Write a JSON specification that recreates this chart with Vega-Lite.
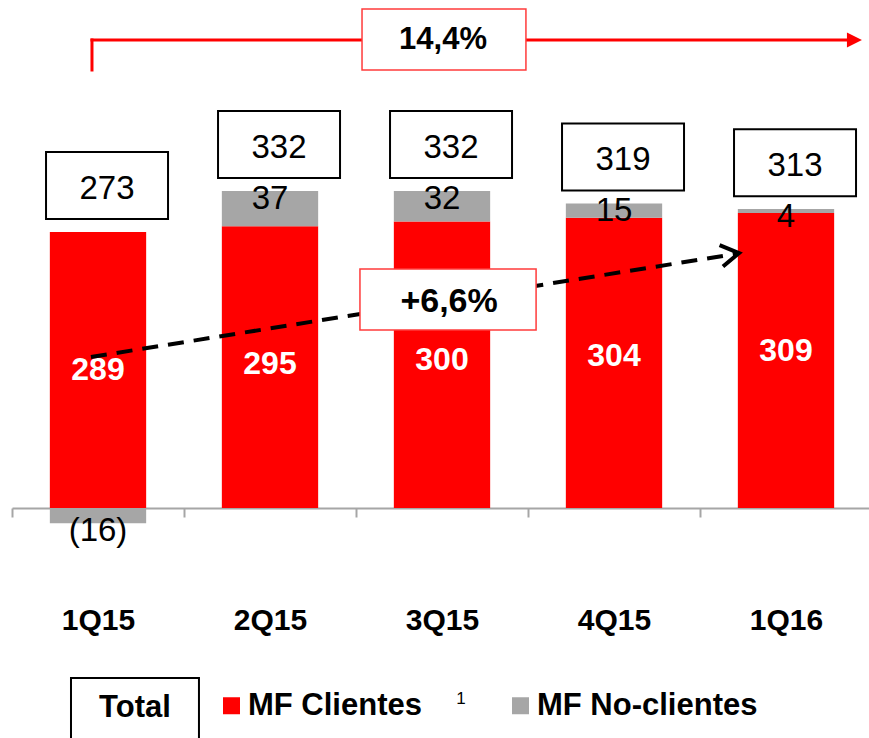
{
  "$schema": "https://vega.github.io/schema/vega-lite/v6.json",
  "width": 857,
  "height": 508,
  "autosize": {"type": "none"},
  "padding": {"left": 12, "top": 0, "right": 0, "bottom": 230},
  "background": "white",
  "config": {
    "view": {"stroke": null},
    "font": "Liberation Sans",
    "text": {"font": "Liberation Sans"}
  },
  "datasets": {
    "bars": [
      {"quarter": "1Q15", "serie": "MF Clientes", "value": 289},
      {"quarter": "1Q15", "serie": "MF No-clientes", "value": -16},
      {"quarter": "2Q15", "serie": "MF Clientes", "value": 295},
      {"quarter": "2Q15", "serie": "MF No-clientes", "value": 37},
      {"quarter": "3Q15", "serie": "MF Clientes", "value": 300},
      {"quarter": "3Q15", "serie": "MF No-clientes", "value": 32},
      {"quarter": "4Q15", "serie": "MF Clientes", "value": 304},
      {"quarter": "4Q15", "serie": "MF No-clientes", "value": 15},
      {"quarter": "1Q16", "serie": "MF Clientes", "value": 309},
      {"quarter": "1Q16", "serie": "MF No-clientes", "value": 4}
    ],
    "totals": [
      {"quarter": "1Q15", "total": 273},
      {"quarter": "2Q15", "total": 332},
      {"quarter": "3Q15", "total": 332},
      {"quarter": "4Q15", "total": 319},
      {"quarter": "1Q16", "total": 313}
    ]
  },
  "resolve": {"scale": {"x": "independent"}},
  "layer": [
    {
      "data": {"name": "bars"},
      "layer": [
        {
          "mark": {"type": "bar", "width": {"band": 0.56}},
          "encoding": {
            "x": {
              "field": "quarter", "type": "nominal",
              "sort": ["1Q15", "2Q15", "3Q15", "4Q15", "1Q16"],
              "scale": {"paddingInner": 0, "paddingOuter": 0, "range": [0, 860]},
              "axis": {
                "title": null, "tickBand": "extent", "labelAngle": 0,
                "domainColor": "#a6a6a6", "domainWidth": 2,
                "tickColor": "#a6a6a6", "tickWidth": 2, "tickSize": 9,
                "labelFont": "Liberation Sans", "labelFontWeight": "bold",
                "labelFontSize": 30, "labelColor": "#000000", "labelPadding": 88
              }
            },
            "y": {
              "field": "value", "type": "quantitative", "stack": "zero",
              "scale": {"domain": [0, 532], "nice": false, "zero": false},
              "axis": null
            },
            "color": {
              "field": "serie", "type": "nominal",
              "scale": {"domain": ["MF Clientes", "MF No-clientes"], "range": ["#ff0000", "#a6a6a6"]},
              "legend": {
                "orient": "none", "legendX": 204, "legendY": 690,
                "direction": "horizontal", "title": null,
                "symbolType": "square", "symbolSize": 289, "symbolStrokeWidth": 0,
                "labelFont": "Liberation Sans", "labelFontWeight": "bold",
                "labelFontSize": 31, "labelColor": "#000000", "labelOffset": 1,
                "columnPadding": 83, "padding": 0, "labelLimit": 400
              }
            },
            "order": {"field": "serie", "type": "nominal", "sort": "ascending"}
          }
        },
        {
          "data": {"name": "bars"},
          "transform": [
            {"filter": "datum.value > 0"},
            {"aggregate": [{"op": "sum", "field": "value", "as": "top"}], "groupby": ["quarter"]},
            {"lookup": "quarter", "from": {"data": {"name": "totals"}, "key": "quarter", "fields": ["total"]}}
          ],
          "encoding": {
            "x": {"field": "quarter", "type": "nominal", "sort": ["1Q15", "2Q15", "3Q15", "4Q15", "1Q16"]},
            "y": {"field": "top", "type": "quantitative", "axis": null}
          },
          "layer": [
            {
              "mark": {
                "type": "point",
                "shape": "M -0.852 -1.311 L 1.148 -1.311 L 1.148 -0.213 L -0.852 -0.213 Z",
                "size": 14884, "filled": true, "fill": "white", "stroke": "black",
                "strokeWidth": 2, "opacity": 1
              }
            },
            {
              "mark": {"type": "text", "fontSize": 33, "color": "black", "baseline": "middle", "dy": -43, "dx": 9},
              "encoding": {"text": {"field": "total", "type": "quantitative"}}
            }
          ]
        },
        {
          "transform": [{"filter": "datum.serie === 'MF Clientes'"}],
          "mark": {"type": "text", "fontSize": 32, "fontWeight": "bold", "color": "white", "baseline": "middle", "dy": 138},
          "encoding": {
            "x": {"field": "quarter", "type": "nominal", "sort": ["1Q15", "2Q15", "3Q15", "4Q15", "1Q16"]},
            "y": {"field": "value", "type": "quantitative", "axis": null},
            "text": {"field": "value", "type": "quantitative"}
          }
        },
        {
          "mark": {"type": "text", "fontSize": 33, "color": "black", "baseline": "middle", "dy": 8},
          "encoding": {
            "x": {"field": "quarter", "type": "nominal", "sort": ["1Q15", "2Q15", "3Q15", "4Q15", "1Q16"]},
            "y": {"field": "value", "type": "quantitative", "stack": "zero", "axis": null},
            "detail": {"field": "serie", "type": "nominal"},
            "order": {"field": "serie", "type": "nominal", "sort": "ascending"},
            "text": {"field": "value", "type": "quantitative", "format": "(d"},
            "opacity": {"condition": {"test": "datum.serie === 'MF Clientes'", "value": 0}, "value": 1}
          }
        }
      ]
    },
    {
      "data": {"values": [{}]},
      "layer": [
        {
          "mark": {"type": "rule", "color": "#ff0000", "strokeWidth": 3, "strokeCap": "square"},
          "encoding": {
            "x": {"datum": -0.035, "type": "quantitative", "scale": {"domain": [-0.5, 4.5], "range": [0, 860], "nice": false, "zero": false}, "axis": null},
            "y": {"datum": 458.7, "type": "quantitative", "axis": null},
            "y2": {"datum": 490.1}
          }
        },
        {
          "mark": {"type": "rule", "color": "#ff0000", "strokeWidth": 3, "strokeCap": "square"},
          "encoding": {
            "x": {"datum": -0.035, "type": "quantitative", "axis": null},
            "x2": {"datum": 4.36},
            "y": {"datum": 490.1, "type": "quantitative", "axis": null}
          }
        },
        {
          "mark": {"type": "point", "shape": "M -1 -1 L 1 0 L -1 1 Z", "size": 225, "filled": true, "color": "#ff0000", "opacity": 1},
          "encoding": {
            "x": {"datum": 4.398, "type": "quantitative", "axis": null},
            "y": {"datum": 490.1, "type": "quantitative", "axis": null}
          }
        },
        {
          "mark": {"type": "rect", "fill": "white", "stroke": "#ff3b3b", "strokeWidth": 1.5},
          "encoding": {
            "x": {"datum": 1.535, "type": "quantitative", "axis": null},
            "x2": {"datum": 2.488},
            "y": {"datum": 522.6, "type": "quantitative", "axis": null},
            "y2": {"datum": 458.7}
          }
        },
        {
          "mark": {"type": "text", "text": "14,4%", "fontSize": 31, "fontWeight": "bold", "color": "black", "baseline": "middle"},
          "encoding": {
            "x": {"datum": 2.006, "type": "quantitative", "axis": null},
            "y": {"datum": 490.1, "type": "quantitative", "axis": null}
          }
        },
        {
          "mark": {"type": "rule", "color": "black", "strokeWidth": 4, "strokeDash": [16, 10]},
          "encoding": {
            "x": {"datum": -0.041, "type": "quantitative", "axis": null},
            "x2": {"datum": 3.72},
            "y": {"datum": 158.1, "type": "quantitative", "axis": null},
            "y2": {"datum": 266.5}
          }
        },
        {
          "mark": {"type": "point", "shape": "M -1 -0.6 L 0 0 L -1 0.6", "size": 1296, "filled": false, "stroke": "black", "strokeWidth": 4, "angle": 350.9, "opacity": 1},
          "encoding": {
            "x": {"datum": 3.727, "type": "quantitative", "axis": null},
            "y": {"datum": 267.0, "type": "quantitative", "axis": null}
          }
        },
        {
          "mark": {"type": "rect", "fill": "white", "stroke": "#ff3b3b", "strokeWidth": 1.5},
          "encoding": {
            "x": {"datum": 1.523, "type": "quantitative", "axis": null},
            "x2": {"datum": 2.547},
            "y": {"datum": 250.3, "type": "quantitative", "axis": null},
            "y2": {"datum": 186.4}
          }
        },
        {
          "mark": {"type": "text", "text": "+6,6%", "fontSize": 34, "fontWeight": "bold", "color": "black", "baseline": "middle"},
          "encoding": {
            "x": {"datum": 2.041, "type": "quantitative", "axis": null},
            "y": {"datum": 215.7, "type": "quantitative", "axis": null}
          }
        },
        {
          "mark": {"type": "rect", "fill": "white", "stroke": "black", "strokeWidth": 2},
          "encoding": {
            "x": {"datum": -0.157, "type": "quantitative", "axis": null},
            "x2": {"datum": 0.587},
            "y": {"datum": -178.0, "type": "quantitative", "axis": null},
            "y2": {"datum": -250.0}
          }
        },
        {
          "mark": {"type": "text", "text": "Total", "fontSize": 31, "fontWeight": "bold", "color": "black", "baseline": "middle"},
          "encoding": {
            "x": {"datum": 0.215, "type": "quantitative", "axis": null},
            "y": {"datum": -209.4, "type": "quantitative", "axis": null}
          }
        },
        {
          "mark": {"type": "text", "text": "1", "fontSize": 17, "color": "black", "baseline": "middle"},
          "encoding": {
            "x": {"datum": 2.11, "type": "quantitative", "axis": null},
            "y": {"datum": -200.0, "type": "quantitative", "axis": null}
          }
        }
      ]
    }
  ]
}
